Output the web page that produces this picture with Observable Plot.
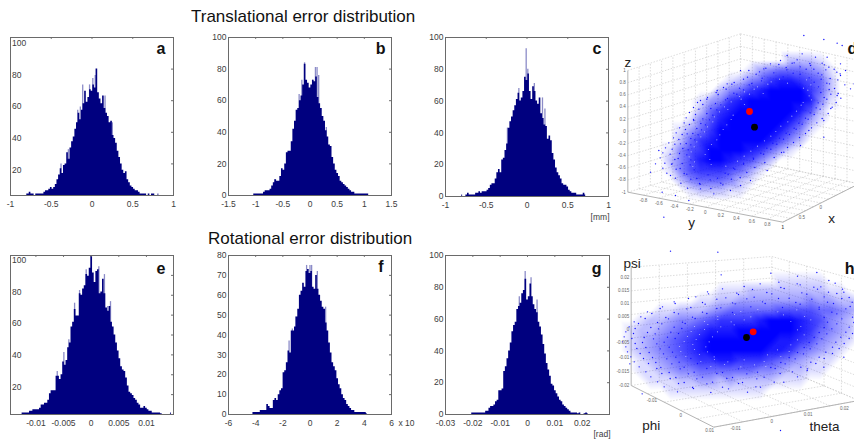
<!DOCTYPE html>
<html>
<head>
<meta charset="utf-8">
<script src="https://cdn.jsdelivr.net/npm/d3@7"></script>
<script src="https://cdn.jsdelivr.net/npm/@observablehq/plot@0.6"></script>
<style>
html,body{margin:0;padding:0;background:#fff}
#chart{position:relative;width:854px;height:440px;overflow:hidden;background:#fff;font-family:"Liberation Sans",Arial,sans-serif}
.title{position:absolute;color:#111;white-space:nowrap;font-size:17px;line-height:20px}
#chart svg{position:absolute;overflow:hidden}
</style>
</head>
<body>
<div id="chart">
<div class="title" style="left:191px;top:7px">Translational error distribution</div>
<div class="title" style="left:208px;top:229px">Rotational error distribution</div>
</div>
<script>
// ---------- histogram values ----------
const aStart=-0.80,aStep=0.02;
const aCounts=[1,1,2,1,1,0,1,1,1,1,1,2,3,3,4,5,4,5,7,10,13,17,14,19,20,27,23,30,34,37,42,46,52,48,54,58,66,59,62,67,66,70,68,80,65,61,58,63,55,52,50,46,47,38,36,33,28,24,20,16,14,15,10,8,6,5,4,3,3,2,1,1,1,1,0,1,0,1,1,0,0,1];
const aSpikes=[[-.38,20],[-.29,29],[-.175,54],[-.143,56],[-.114,70],[-.03,70],[.01,74],[.04,76],[.16,63],[.25,46]];

const bStart=-1.05,bStep=0.03;
const bCounts=[0,1,1,1,1,1,1,2,3,3,3,4,6,8,10,9,9,12,17,16,20,27,28,28,34,42,47,54,55,60,63,70,83,73,71,68,70,73,72,75,62,58,55,50,47,41,37,32,31,24,20,16,14,12,9,8,7,6,5,4,3,2,2,1,1,1,1,1,1,1,1,1];
const bSpikes=[[-.65,10],[-.2,64],[-.15,73],[-.1,84],[.05,73],[.1,81],[.13,81],[.16,76],[.3,43]];

const cStart=-0.80,cStep=0.02;
const cCounts=[1,0,0,1,2,1,1,1,1,2,2,3,2,3,3,3,4,5,7,8,8,11,15,17,15,23,24,29,33,43,47,50,54,57,61,65,60,62,66,75,73,77,66,61,69,66,60,58,62,52,49,45,44,36,38,35,27,23,18,15,13,11,8,7,7,6,4,3,2,2,2,1,1,1,1,2,1];
const cSpikes=[[-.24,43],[-.1,68],[-.01,93],[.01,80],[.09,71],[.19,62],[.22,55]];

const eStart=-0.0125,eStep=0.0003;
const eCounts=[1,1,1,1,1,2,2,3,3,3,3,4,6,6,7,7,9,13,15,15,15,24,24,22,25,33,31,34,42,45,55,58,66,62,62,76,75,79,81,88,87,92,100,89,83,90,91,76,77,85,76,67,65,68,58,55,50,45,40,35,30,28,27,23,18,14,13,12,10,9,7,6,4,4,5,4,3,2,2,1,1,1,1,1,0.5,0,0,0,0,0,1];
const eSpikes=[[-.00614,27],[-.00494,39],[-.00404,47],[-.003,70],[-.0021,78],[-.0009,91],[0,102],[.00139,93],[.0024,88],[.003,68],[.0035,71]];

const fStart=-4.2,fStep=0.12;
const fCounts=[1,1,1,1,1,2,2,2,2,5,4,3,3,7,8,7,10,12,13,21,22,26,32,31,42,42,44,49,53,60,62,66,64,72,73,71,72,64,63,70,63,60,57,54,53,46,42,36,31,26,24,22,18,15,13,10,8,7,5,4,3,2,2,1,1,1,1,1,1,1,0.5];
const fSpikes=[[-1.54,37],[-1.3,43],[-1.05,49],[-.25,75],[0,75],[.12,75],[.54,72],[1.15,54]];

const gStart=-0.0204,gStep=0.0006;
const gCounts=[1,1,1,1,1,1,1,1,1,2,2,4,5,5,6,8,9,15,15,16,27,30,35,40,45,52,56,58,66,68,70,76,78,85,72,74,82,74,69,66,64,58,55,50,44,38,32,28,24,19,18,15,13,11,9,8,6,5,4,3,2,1,1,1,1,0.5,1,0,0,0.5,1,0.5];
const gSpikes=[[-.003,74],[-.00085,90],[.0013,86],[.0035,72]];

// ---------- tick labels ----------
const aXTicks=[-1,-0.5,0,0.5,1], aYTicks=[20,40,60,80,100];
const bXTicks=[-1.5,-1,-0.5,0,0.5,1,1.5], bYTicks=[0,20,40,60,80,100];
const cXTicks=[-1,-0.5,0,0.5,1], cYTicks=[0,20,40,60,80,100];
const eXTicks=[-0.01,-0.005,0,0.005,0.01], eYTicks=[20,40,60,80,100], eMinorTicks=[12.5,25,37.5,50,62.5,75,87.5];
const fXTicks=[-6,-4,-2,0,2,4,6], fYTicks=[0,10,20,30,40,50,60,70,80];
const gXTicks=[-0.03,-0.02,-0.01,0,0.01,0.02], gXMarks=[-0.03,-0.02,-0.01,0,0.01,0.02,0.03], gYTicks=[0,20,40,60,80,100];

// ---------- scatter views: density read per 30-unit cell, and single dots ----------
const dCols=[150,180,210,240,270,300,330,360,390,420,450,480,510,540,570,600,630,660,690,720];
const dRows=[90,120,150,180,210,240,270,300,330,360,390,420,450,480,510,540];
const dDensity=[
"00000000000000000000",
"00000000000002221000",
"00000000013455543100",
"00000001245788765200",
"00000024578999975200",
"00001347899999984100",
"00002578999999862000",
"00014689999998631000",
"00135799999986410000",
"00257899999864200000",
"01467999987531000000",
"02468998764200000000",
"01467776531000000000",
"00245554210000000000",
"00012221100000000000",
"00000000000000000000"];
const dDots=[[580,45],[640,57],[680,68],[695,75],[575,100],[615,110],[560,118],[530,105],[690,130],[655,140],[690,165],[720,205],[731,190],[680,225],[665,260],[640,300],[640,350],[595,330],[570,375],[520,395],[470,450],[420,480],[390,495],[360,510],[310,520],[270,505],[195,525],[155,515],[135,430],[120,455],[180,465],[160,590],[235,540],[185,430],[145,390],[210,370],[230,340],[250,300],[270,240],[320,210],[350,190],[390,150],[415,150],[460,145],[480,130],[510,120],[545,128],[600,135],[635,128],[705,150],[650,110],
[505,132],[527,141],[551,127],[569,139],[598,129],[610,146],[642,133],[671,146],[447,154],[466,143],[490,157],[529,148],[548,158],[587,146],[623,158],[646,148],[679,155],[411,170],[437,161],[455,173],[518,169],[569,161],[596,172],[634,163],[659,174],[689,160],[371,186],[399,176],[424,189],[453,181],[611,185],[632,176],[657,190],[682,178],[339,201],[364,191],[387,203],[416,193],[624,199],[649,188],[672,204],[703,193],[317,216],[347,206],[370,218],[399,208],[631,216],[656,207],[683,219],[291,231],[323,222],[351,234],[379,221],[641,231],[661,221],[691,233],[261,246],[289,236],[315,249],[345,238],[623,247],[649,236],[677,246],[249,261],[277,252],[301,264],[331,253],[617,262],[637,251],[661,264],[237,276],[265,266],[289,279],[319,268],[599,277],[629,266],[653,279],[227,292],[255,282],[277,295],[307,284],[585,293],[611,282],[635,294],[221,307],[249,297],[271,309],[297,298],[565,308],[593,296],[619,307],[207,322],[237,312],[259,324],[285,313],[551,323],[575,311],[603,322],[197,337],[225,327],[247,339],[273,328],[527,338],[557,326],[585,339],[189,352],[215,342],[241,354],[263,343],[507,353],[537,342],[567,351],[175,367],[205,357],[227,369],[253,358],[487,368],[519,356],[549,366],[165,382],[193,371],[217,384],[241,373],[469,383],[499,371],[531,381],[157,397],[185,386],[207,399],[233,388],[451,398],[481,386],[513,396],[149,412],[179,401],[203,414],[229,403],[429,413],[459,401],[491,411],[163,428],[193,417],[215,429],[241,418],[399,428],[429,416],[463,426],[157,443],[183,431],[209,444],[239,433],[369,443],[399,431],[433,441],[169,458],[197,446],[221,459],[251,448],[344,458],[373,446],[409,456],[195,473],[229,461],[259,474],[293,463],[321,473],[353,461],[389,471],[211,488],[241,476],[267,489],[299,478],[331,488],[363,476],[231,503],[269,491],[301,504],[337,493]];
const dGaps=[[482,184],[507,176],[531,188],[588,178],[441,199],[472,191],[579,203],[601,193],[402,214],[431,206],[458,219],[592,209],[387,228],[417,221],[596,226],[362,244],[392,236],[578,246],[603,238],[342,259],[402,252],[572,254],[327,274],[352,267],[558,272],[312,289],[368,284],[544,287],[307,304],[362,297],[532,304],[291,319],[349,313],[511,317],[282,334],[338,327],[496,333],[271,349],[328,343],[481,347],[259,364],[319,358],[462,361],[251,379],[303,372],[441,377],[242,394],[294,387],[421,392],[236,409],[284,402],[401,407],[252,424],[298,417],[381,422],[247,438],[302,432],[346,437]];
const dRed=[[417,273]], dBlack=[[432,320]];
const dWallTicks=[0,.1,.2,.3,.4,.5,.6,.7,.8,.9,1];
const dWallLabels=["-1","-0.8","-0.6","-0.4","-0.2","0","0.2","0.4","0.6","0.8","1"];
const dFloorTicks=[.1,.2,.3,.4,.5,.6,.7,.8,.9,1];
const dYLabels=["-0.8","-0.6","-0.4","-0.2","0","0.2","0.4","0.6","0.8","1"];
const dXLabels=["1","0.5","0"];
const dXTicks=[0,.25,.5];
const dCorners={Lb:[52,515],Lt:[52,150],Bb:[390,415],Bt:[390,40],Fb:[517,605],Rb:[745,490],Rt:[745,120]};
const dWords=[["z",52,128],["y",243,606],["x",663,596]];

const hCols=[30,60,90,120,150,180,210,240,270,300,330,360,390,420,450,480,510,540,570,600,630,660,690,720,750];
const hRows=[120,150,180,210,240,270,300,330,360,390,420,450,480,510];
const hDensity=[
"0000000000000000000000000",
"0000000000000000111110000",
"0000000000111222222221100",
"0000000011223333333433221",
"0000112223455555666655432",
"0012234456777789998764320",
"0122345678889999998754320",
"0123456789999999887643210",
"0123456789999998875432100",
"0012345677887776543211000",
"0011234455555544322110000",
"0001112233232222111000000",
"0000011111111110000000000",
"0000000000000000000000000"];
const hDots=[[180,62],[322,65],[510,600],[505,155],[560,160],[610,170],[655,150],[700,185],[725,215],[58,400],[95,490],[640,410],[700,380],[590,420],[520,455],[450,470],
[332,133],[481,128],[561,137],[619,126],[401,168],[449,160],[511,171],[569,163],[631,169],[674,158],[291,184],[336,175],[379,188],[426,177],[469,186],[521,174],[574,187],[621,176],[654,185],[696,176],[256,199],[294,190],[346,202],[384,192],[431,200],[484,190],[536,203],[589,191],[641,199],[679,189],[716,201],[191,214],[234,204],[276,216],[319,206],[366,217],[409,205],[456,214],[504,204],[556,216],[604,206],[651,215],[694,204],[156,229],[194,219],[241,231],[284,221],[331,232],[374,220],[421,229],[464,219],[516,231],[569,221],[626,230],[669,219],[719,228],[111,244],[149,234],[191,246],[229,235],[276,245],[319,234],[366,246],[626,236],[664,245],[706,235],[91,259],[124,249],[166,261],[204,250],[246,260],[289,249],[641,261],[679,250],[726,260],[71,274],[104,264],[141,276],[174,265],[216,275],[254,264],[651,275],[694,265],[730,276],[56,289],[84,279],[121,291],[154,280],[191,290],[224,279],[641,291],[679,280],[716,290],[46,304],[74,294],[111,306],[144,295],[181,305],[214,294],[626,306],[664,295],[706,305],[41,319],[69,309],[101,321],[134,310],[171,320],[204,309],[611,321],[649,310],[691,320],[726,309],[36,334],[64,324],[96,336],[129,325],[161,335],[194,324],[596,336],[634,325],[676,335],[716,324],[46,349],[74,339],[106,351],[139,340],[176,350],[581,351],[619,340],[666,350],[701,339],[51,364],[79,354],[116,366],[149,355],[186,365],[561,366],[599,355],[646,365],[686,354],[61,379],[89,369],[126,381],[159,370],[196,380],[536,381],[579,370],[626,380],[666,369],[71,394],[99,384],[136,396],[169,385],[206,395],[241,384],[511,396],[554,385],[601,395],[641,384],[86,409],[114,399],[151,411],[184,400],[221,410],[261,399],[481,411],[524,400],[571,410],[616,399],[106,424],[139,414],[176,426],[209,415],[251,425],[289,414],[336,426],[384,415],[441,425],[494,414],[546,424],[591,415],[121,439],[154,429],[196,441],[234,430],[276,440],[319,429],[366,441],[409,430],[461,440],[509,429],[561,439],[141,454],[179,444],[221,456],[259,445],[306,455],[349,444],[396,456],[439,445],[491,455],[161,469],[204,459],[246,471],[289,460],[336,470],[384,459],[436,469],[201,484],[249,474],[301,486],[354,475],[411,485]];
const hGaps=[[391,243],[442,237],[502,244],[559,238],[322,258],[372,252],[421,259],[519,253],[582,258],[282,273],[322,267],[362,274],[401,268],[541,273],[601,268],[252,288],[292,282],[331,289],[371,283],[571,288],[242,303],[282,297],[321,304],[561,298],[231,318],[267,312],[306,319],[581,313],[221,333],[257,327],[296,334],[561,328],[207,348],[247,342],[286,349],[541,343],[211,363],[252,357],[291,364],[501,358],[536,363],[226,378],[267,372],[311,379],[471,373],[511,378],[271,393],[312,387],[352,394],[401,388],[461,393],[301,408],[342,402],[391,409],[432,403],[466,408]];
const hRed=[[428,304]], hBlack=[[408,321]];
const hWallTicks=[0,.1,.2,.3,.4,.5,.6,.7,.8,.9,1];
const hWallLabels=["-0.02","-0.015","-0.01","-0.005","0","0.005","0.01","0.015","0.02"];
const hWallLabelTicks=[0,.12,.24,.36,.47,.58,.69,.8,.91];
const hFloorTicks=[.2,.4,.6,.8,1];
const hPhiLabels=["-0.01","0","0.01"];
const hPhiTicks=[.25,.6,.95];
const hThetaLabels=["-0.01","0","0.01","0.02"];
const hThetaTicks=[.15,.4,.65,.9];
const hCorners={Lb:[62,465],Lt:[62,110],Bb:[484,400],Bt:[484,78],Fb:[310,590],Rb:[745,510],Rt:[745,150]};
const hWords=[["psi",65,100],["phi",122,587],["theta",642,588]];

// ---------- drawing ----------
const chart=document.getElementById("chart");
const FONT='"Liberation Sans",Arial,sans-serif';
const NAVY="#00007f", HALO="#8c8cc8", AXIS="#6a6a6a", TICKTEXT="#3c3c3c";
function place(node,left,top){node.style.left=left+"px";node.style.top=top+"px";chart.appendChild(node);}

function hist(o){
  const [x0,x1]=o.x, [y0,y1]=o.y;
  const bins=o.counts.map((c,i)=>({a:o.start+i*o.step,c}));
  const ml=o.ml??28, mb=26, mr=o.mr??12, mt=8;
  const yt=(y1-y0)*0.012, xt=(x1-x0)*0.012;
  const minor=o.minor??o.yTicks;
  const marks=[
    Plot.ruleX(o.spikes,{x:d=>d[0],y1:0,y2:d=>d[1],stroke:HALO,strokeWidth:1.3,clip:true}),
    Plot.areaY(bins,{x:"a",y:"c",curve:"step",fill:NAVY,clip:true}),
    Plot.ruleX(o.xMarks??o.xTicks,{x:d=>d,y1:y1,y2:y1-yt,stroke:AXIS}),
    Plot.ruleY(minor,{y:d=>d,x1:x1,x2:x1-xt,stroke:AXIS}),
    Plot.frame({stroke:AXIS}),
    Plot.text(o.xTicks,{x:d=>d,y:y0,text:d=>String(d),dy:9,fill:TICKTEXT,lineAnchor:"middle",textAnchor:"middle"}),
    o.inside
      ? Plot.text(o.yTicks,{x:x0,y:d=>d,text:d=>String(d),textAnchor:"start",dx:1.5,dy:o.insideDy,fill:TICKTEXT})
      : Plot.text(o.yTicks,{x:x0,y:d=>d,text:d=>String(d),textAnchor:"end",dx:-2,fill:TICKTEXT}),
    Plot.text([o.letter],{x:x1,y:y1,text:d=>d,textAnchor:"end",dx:o.ldx??-8,dy:o.ldy??11,fontWeight:"bold",fontSize:16,fill:"#111"})
  ];
  if(o.extra) marks.push(Plot.text([o.extra.text],{x:x1,y:y0,text:d=>d,textAnchor:o.extra.anchor,dx:o.extra.dx,dy:o.extra.dy,fill:TICKTEXT}));
  const node=Plot.plot({
    width:o.w+ml+mr,height:o.h+mt+mb,marginLeft:ml,marginRight:mr,marginTop:mt,marginBottom:mb,
    x:{domain:[x0,x1],axis:null},y:{domain:[y0,y1],axis:null},
    style:{fontFamily:FONT,fontSize:"8.5px",background:"transparent"},
    marks
  });
  place(node,o.left-ml,o.top-mt);
}

hist({left:10,top:37,w:163,h:158,x:[-1,1],y:[0,100],counts:aCounts,start:aStart,step:aStep,spikes:aSpikes,xTicks:aXTicks,yTicks:aYTicks,inside:true,insideDy:6,letter:"a",ml:10});
hist({left:228,top:37,w:163,h:158,x:[-1.5,1.5],y:[0,100],counts:bCounts,start:bStart,step:bStep,spikes:bSpikes,xTicks:bXTicks,yTicks:bYTicks,letter:"b",ldx:-6});
hist({left:445,top:37,w:163,h:159,x:[-1,1],y:[0,100],counts:cCounts,start:cStart,step:cStep,spikes:cSpikes,xTicks:cXTicks,yTicks:cYTicks,letter:"c",ldx:-7,extra:{text:"[mm]",anchor:"end",dx:1,dy:21}});
hist({left:10,top:255,w:163,h:159,x:[-0.0146,0.0149],y:[0,100],counts:eCounts,start:eStart,step:eStep,spikes:eSpikes,xTicks:eXTicks,yTicks:eYTicks,minor:eMinorTicks,inside:true,insideDy:4.5,letter:"e",ml:10,ldy:13});
hist({left:228,top:255,w:163,h:159,x:[-6,6],y:[0,80],counts:fCounts,start:fStart,step:fStep,spikes:fSpikes,xTicks:fXTicks,yTicks:fYTicks,letter:"f",mr:26,extra:{text:"x 10",anchor:"start",dx:7,dy:9}});
hist({left:445,top:255,w:164,h:159,x:[-0.03,0.03],y:[0,100],counts:gCounts,start:gStart,step:gStep,spikes:gSpikes,xTicks:gXTicks,xMarks:gXMarks,yTicks:gYTicks,letter:"g",ldy:13,extra:{text:"[rad]",anchor:"end",dx:1,dy:20}});

// 3D view: corners of the box in view units, everything else positioned along them
const along=(p,q,t)=>[p[0]+(q[0]-p[0])*t,p[1]+(q[1]-p[1])*t];
function view3d(o){
  const c=o.corners;
  const grid=[];
  for(const t of o.wallTicks){
    grid.push([along(c.Lb,c.Lt,t),along(c.Bb,c.Bt,t)]);
    grid.push([along(c.Bb,c.Bt,t),along(c.Rb,c.Rt,t)]);
  }
  for(const t of o.floorTicks){
    const a=along(c.Lb,c.Fb,t), b=along(c.Bb,c.Rb,t), tb=along(c.Bt,c.Rt,t);
    grid.push([a,b]); grid.push([b,tb]);
    const p=along(c.Fb,c.Rb,t), q=along(c.Lb,c.Bb,t), tq=along(c.Lt,c.Bt,t);
    grid.push([p,q]); grid.push([q,tq]);
  }
  const solid=[[c.Lb,c.Lt],[c.Lb,c.Fb],[c.Fb,c.Rb]];
  const cells=[];
  o.density.forEach((row,j)=>[...row].forEach((v,i)=>cells.push({x:o.cols[i],y:o.rows[j],d:+v})));
  const node=Plot.plot({
    width:244,height:210,margin:0,
    x:{domain:[0,732],axis:null},y:{domain:[630,0],axis:null},
    opacity:{type:"pow",exponent:.9,domain:[0,9],range:[0,1]},
    style:{fontFamily:FONT,fontSize:"4.5px",background:"transparent"},
    marks:[
      Plot.link(grid,{x1:d=>d[0][0],y1:d=>d[0][1],x2:d=>d[1][0],y2:d=>d[1][1],stroke:"#c4c4c4",strokeWidth:.6,strokeDasharray:"1.5,1.5"}),
      Plot.link(solid,{x1:d=>d[0][0],y1:d=>d[0][1],x2:d=>d[1][0],y2:d=>d[1][1],stroke:"#b4b4b4",strokeWidth:1}),
      Plot.raster(cells,{x:"x",y:"y",fill:"#0000ff",fillOpacity:"d",interpolate:"barycentric",pixelSize:1,x1:0,x2:732,y1:0,y2:630,width:244,height:210}),
      Plot.dot(o.gaps,{x:d=>d[0],y:d=>d[1],r:.6,fill:"#fff",fillOpacity:.6}),
      Plot.dot(o.dots,{x:d=>d[0],y:d=>d[1],r:.7,fill:"#1010ff"}),
      Plot.text(o.wallLabels,{x:(d,i)=>along(c.Lb,c.Lt,o.labelTicks[i])[0],y:(d,i)=>along(c.Lb,c.Lt,o.labelTicks[i])[1],text:d=>d,textAnchor:"end",dx:-2,fill:"#666"}),
      ...o.axisLabels.map(a=>Plot.text(a.labels,{x:(d,i)=>along(a.p,a.q,a.ticks[i])[0],y:(d,i)=>along(a.p,a.q,a.ticks[i])[1],text:d=>d,dy:5,fill:"#666"})),
      Plot.dot(o.black,{x:d=>d[0],y:d=>d[1],r:3.4,fill:"#000"}),
      Plot.dot(o.red,{x:d=>d[0],y:d=>d[1],r:3.4,fill:"#f00"}),
      Plot.text(o.words,{x:d=>d[1],y:d=>d[2],text:d=>d[0],fontSize:13.5,fill:"#222"}),
      Plot.text([o.letter],{x:o.letterAt[0],y:o.letterAt[1],text:d=>d,fontWeight:"bold",fontSize:16,fill:"#111",textAnchor:"start"})
    ]
  });
  place(node,610,o.top);
}
view3d({top:20,corners:dCorners,cols:dCols,rows:dRows,density:dDensity,dots:dDots,gaps:dGaps,red:dRed,black:dBlack,
  wallTicks:dWallTicks,floorTicks:dFloorTicks,wallLabels:dWallLabels,labelTicks:dWallTicks,
  axisLabels:[{labels:dYLabels,ticks:dFloorTicks,p:dCorners.Lb,q:dCorners.Fb},{labels:dXLabels,ticks:dXTicks,p:dCorners.Fb,q:dCorners.Rb}],
  words:dWords,letter:"d",letterAt:[711,85]});
view3d({top:230,corners:hCorners,cols:hCols,rows:hRows,density:hDensity,dots:hDots,gaps:hGaps,red:hRed,black:hBlack,
  wallTicks:hWallTicks,floorTicks:hFloorTicks,wallLabels:hWallLabels,labelTicks:hWallLabelTicks,
  axisLabels:[{labels:hPhiLabels,ticks:hPhiTicks,p:hCorners.Lb,q:hCorners.Fb},{labels:hThetaLabels,ticks:hThetaTicks,p:hCorners.Fb,q:hCorners.Rb}],
  words:hWords,letter:"h",letterAt:[703,115]});
</script>
</body>
</html>
